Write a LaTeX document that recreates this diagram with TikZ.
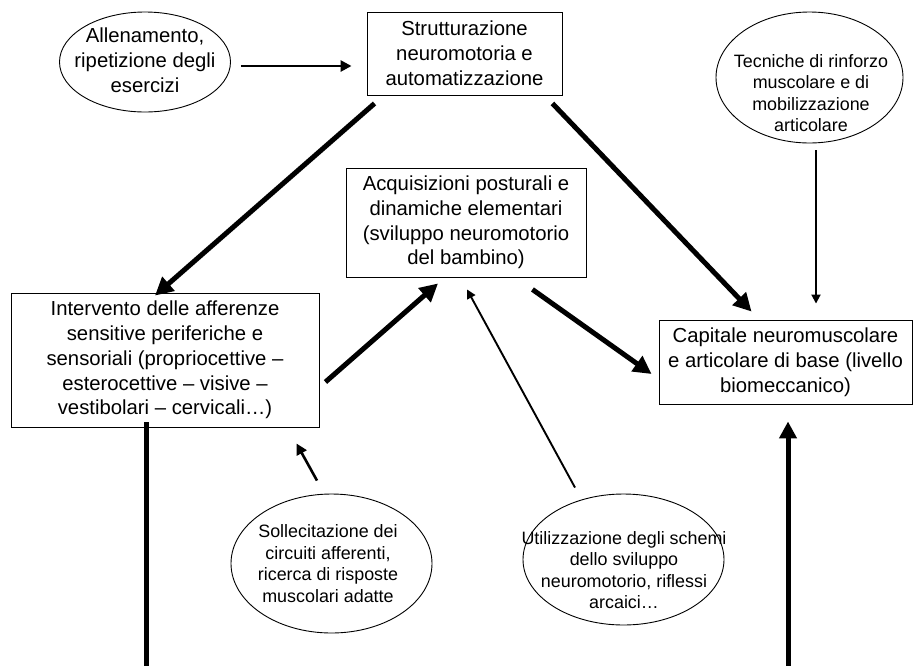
\documentclass[tikz,border=0pt]{standalone}
\usepackage{fontspec}
\setmainfont{Liberation Sans}
\usetikzlibrary{arrows.meta,shapes.geometric,calc}
\begin{document}
\begin{tikzpicture}[x=1pt,y=-1pt,
 boxnode/.style={draw,line width=0.9pt,rectangle,inner sep=0pt,align=center,font=\fontsize{20.3}{24.8}\selectfont},
 ovalnode/.style={draw,line width=0.9pt,ellipse,inner sep=0pt},
 bigtext/.style={font=\fontsize{20.3}{24.8}\selectfont,align=center,inner sep=0pt},
 smalltext/.style={font=\fontsize{17.9}{21.5}\selectfont,align=center,inner sep=0pt},
 thickarrow/.style={line width=5pt,-{Triangle[length=18pt,width=18pt]}},
 thickline/.style={line width=5pt},
 vertarrow/.style={line width=5pt,-{Triangle[length=17pt,width=17pt]}},
 midarrow/.style={line width=2.6pt,-{Triangle[length=11pt,width=11pt]}},
 thinarrow/.style={line width=1.9pt,-{Triangle[length=9pt,width=9pt]}}
]
\useasboundingbox (0,0) rectangle (913,665);

% nodes
\node[ovalnode,minimum width=171pt,minimum height=100pt] (allen) at (145,62) {};
\node[bigtext] (allent) at (145,60) {Allenamento,\\ripetizione degli\\esercizi};

\node[boxnode,minimum width=195pt,minimum height=83pt] (strut) at (464.5,53.5)
 {Strutturazione\\neuromotoria e\\automatizzazione};

\node[ovalnode,minimum width=187pt,minimum height=131pt] (tecn) at (809.5,77.5) {};
\node[smalltext] (tecnt) at (811,93) {Tecniche di rinforzo\\muscolare e di\\mobilizzazione\\articolare};

\node[boxnode,minimum width=240pt,minimum height=109pt] (acq) at (466,222.5)
 {Acquisizioni posturali e\\dinamiche elementari\\(sviluppo neuromotorio\\del bambino)};

\node[boxnode,minimum width=308pt,minimum height=134pt] (interv) at (165,360)
 {Intervento delle afferenze\\sensitive periferiche e\\sensoriali (propriocettive –\\esterocettive – visive –\\vestibolari – cervicali…)};

\node[boxnode,minimum width=253pt,minimum height=84pt] (capit) at (785.5,362)
 {Capitale neuromuscolare\\e articolare di base (livello\\biomeccanico)};

\node[ovalnode,minimum width=201pt,minimum height=139pt] (soll) at (331.5,563.5) {};
\node[smalltext] (sollt) at (328,563.5) {Sollecitazione dei\\circuiti afferenti,\\ricerca di risposte\\muscolari adatte};

\node[ovalnode,minimum width=201pt,minimum height=131pt] (util) at (623.5,559.5) {};
\node[smalltext] (utilt) at (624,570) {Utilizzazione degli schemi\\dello sviluppo\\neuromotorio, riflessi\\arcaici…};

\coordinate (bl) at (146,668);
\coordinate (br) at (788,668);

% connectors
\draw[midarrow] ($(allen.east)+(10,4)$) -- ($(strut.west)+(-15,12.5)$);
\draw[thickarrow] ($(strut.south west)+(8,8)$) -- ($(interv.north)+(-10,3)$);
\draw[thickarrow] ($(strut.south east)+(-10,8)$) -- ($(capit.north west)+(93,-8)$);
\draw[thinarrow] ($(tecn.south)+(6.5,7)$) -- ($(capit.north)+(30.5,-16)$);
\draw[thickarrow] ($(interv.east)+(6,22)$) -- ($(acq.south)+(-28,6)$);
\draw[thickarrow] ($(acq.south east)+(-54,12)$) -- ($(capit.west)+(-7,12)$);
\draw[midarrow] ($(soll.north)+(-14.5,-13)$) -- ($(interv.south east)+(-23,16)$);
\draw[thinarrow] ($(util.north)+(-48.5,-6)$) -- ($(acq.south)+(1,12)$);
\draw[thickline] ($(interv.south)+(-19,-5)$) -- (bl |- interv.south) -- (bl);
\draw[vertarrow] (br) -- ($(capit.south)+(2.5,17)$);
\end{tikzpicture}
\end{document}
